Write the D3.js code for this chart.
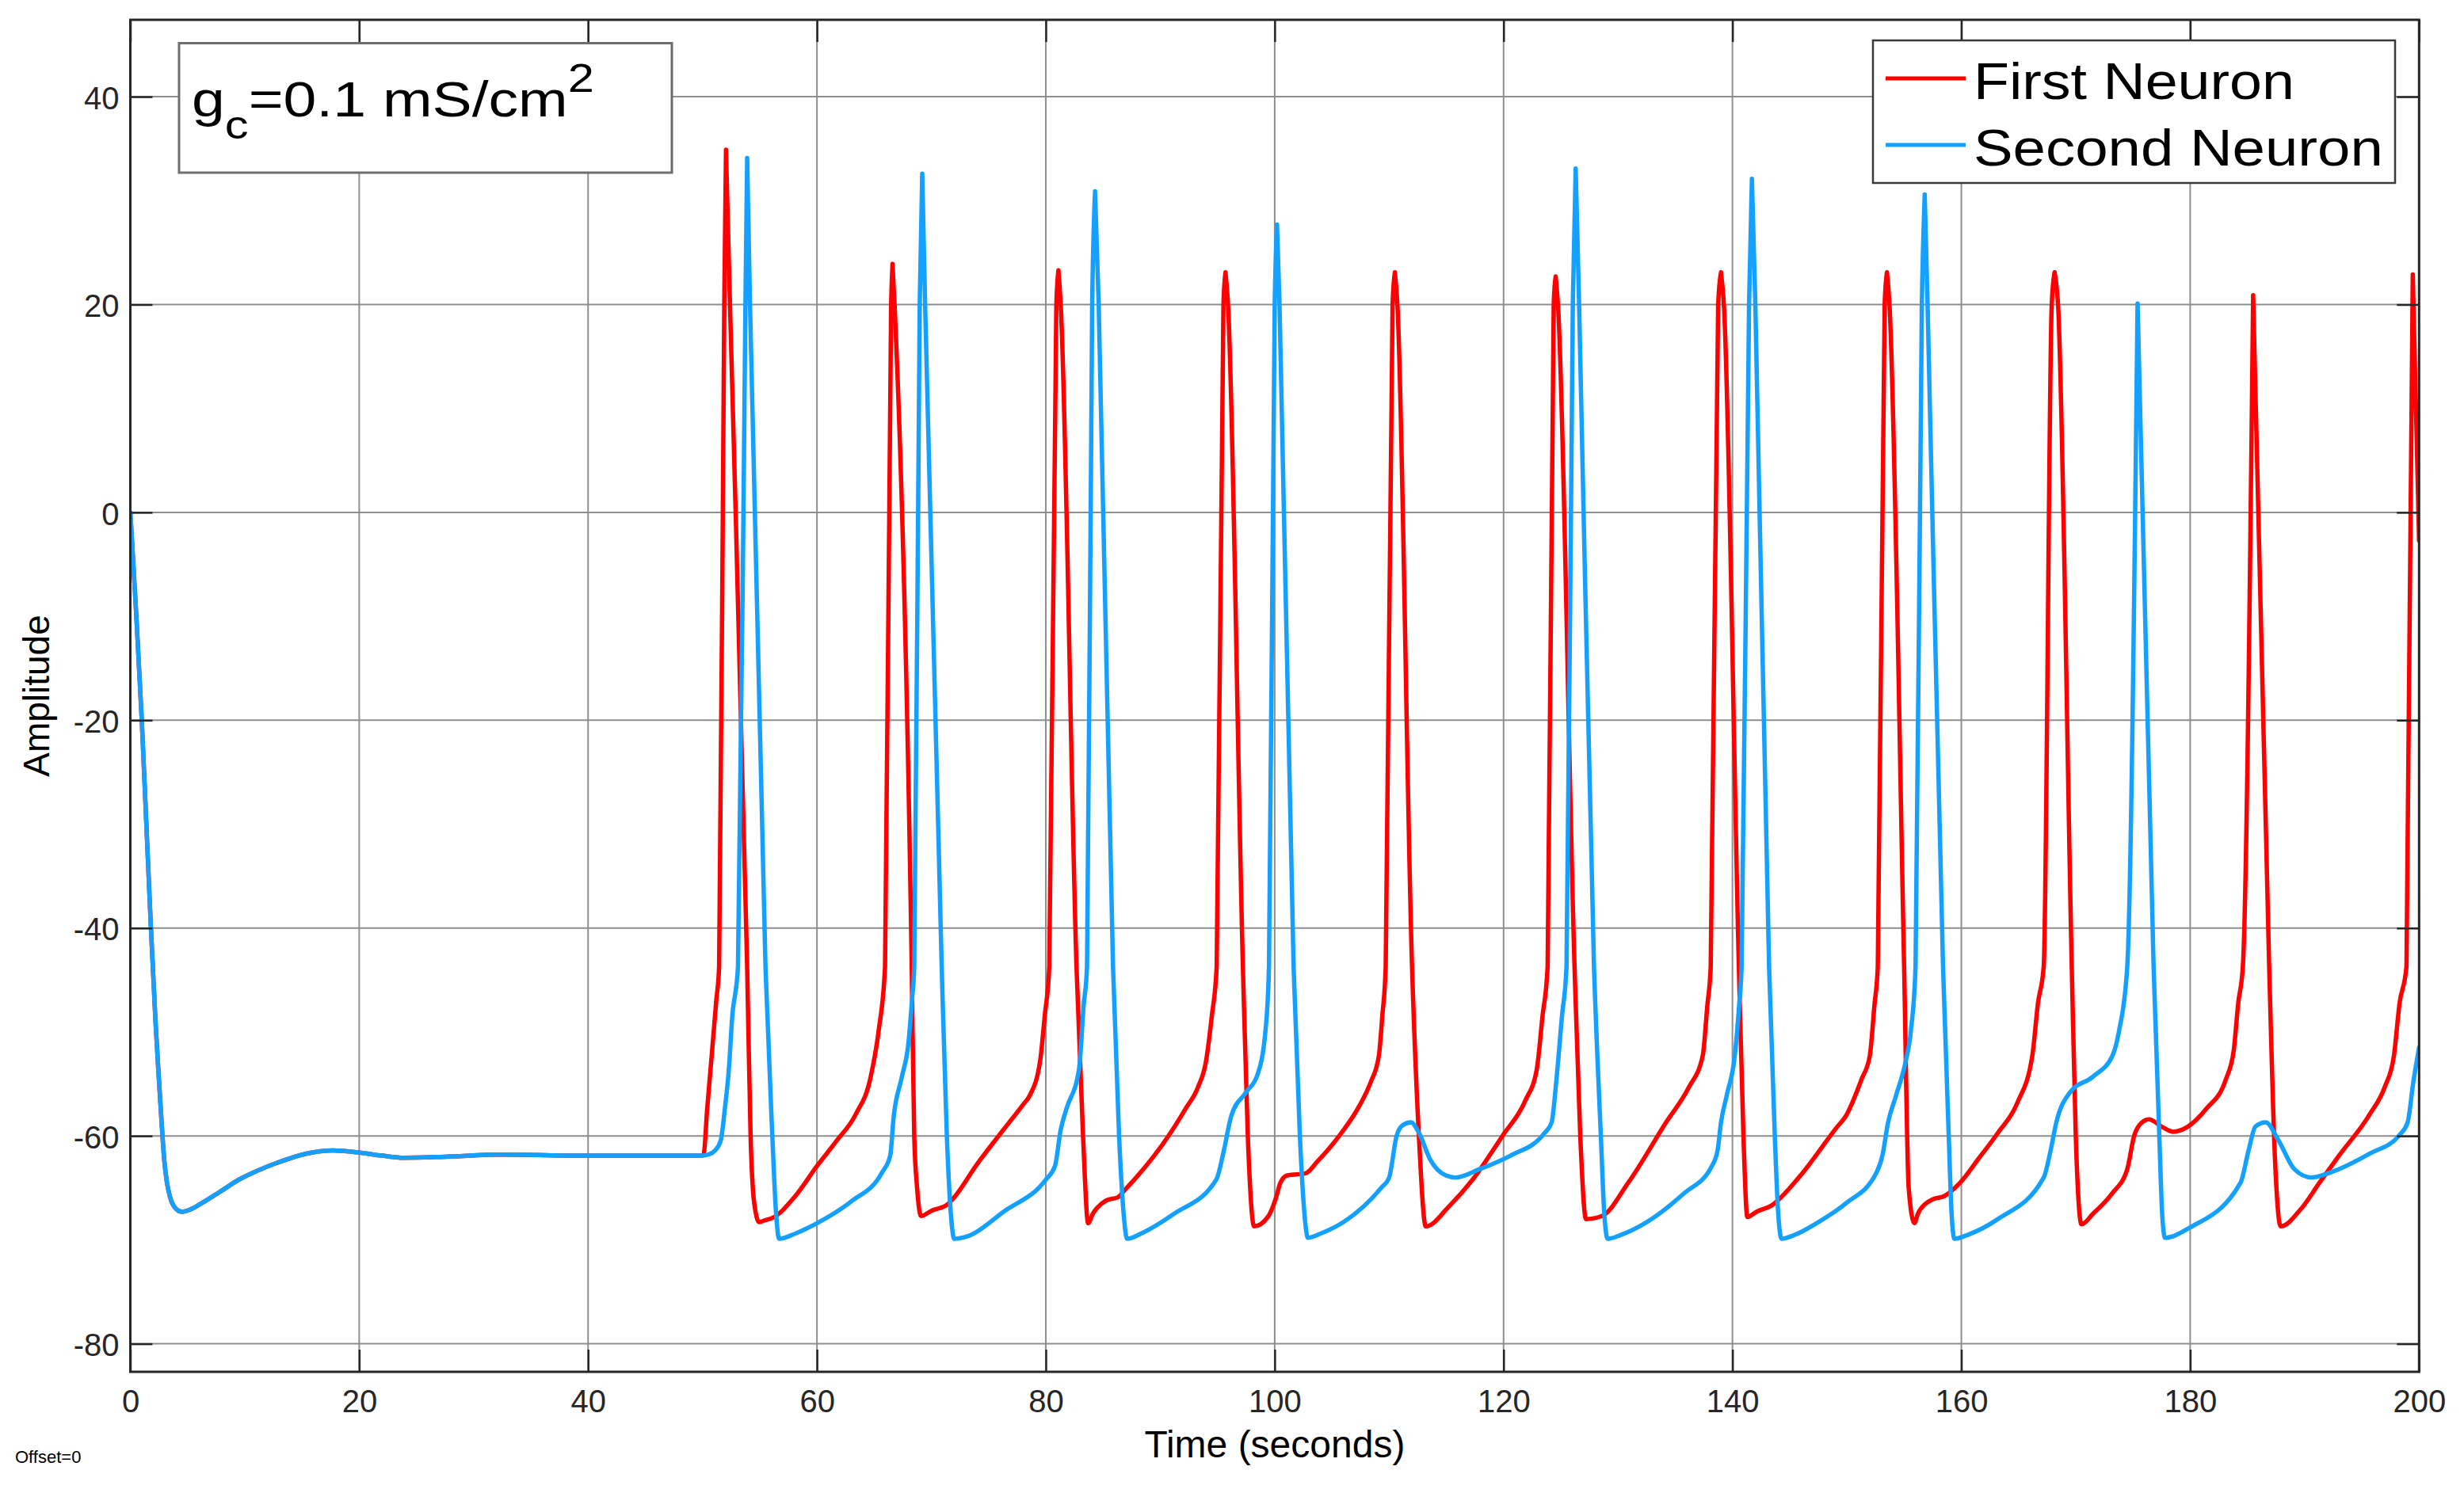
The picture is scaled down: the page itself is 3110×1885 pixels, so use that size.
<!DOCTYPE html>
<html>
<head>
<meta charset="utf-8">
<script src="https://cdn.jsdelivr.net/npm/d3@7/dist/d3.min.js"></script>
<style>
  html, body { margin: 0; padding: 0; background: #ffffff; }
  svg { display: block; }
  text { font-family: "Liberation Sans", Arial, Helvetica, sans-serif; }
</style>
</head>
<body>
<svg id="chart" width="3110" height="1885"></svg>
<script>
// ---------------- DATA ----------------
const xTicks = [0, 20, 40, 60, 80, 100, 120, 140, 160, 180, 200];
const yTicks = [-80, -60, -40, -20, 0, 20, 40];
const xDomain = [0, 200];
const yDomain = [-82.7, 47.4];
const seriesNames = ["First Neuron", "Second Neuron"];
const seriesColors = ["#ff0000", "#14a0ff"];
const xLabel = "Time (seconds)";
const yLabel = "Amplitude";
const noteText = { base: "g", sub: "c", main: "=0.1 mS/cm", sup: "2" };
const footText = "Offset=0";

// shared resting phase (both neurons identical until t = 50)
const restPhase = [
  [0,0],[0.5,-9.5],[1.0,-20],[1.4,-30],[1.8,-40],[2.2,-49],[2.46,-53.9],[2.75,-59],[2.96,-62.3],
  [3.2,-64.5],[3.45,-65.8],[3.9,-66.9],[4.5,-67.3],[5.2,-67.1],[6.2,-66.5],[7.8,-65.4],[9.5,-64.2],
  [11.2,-63.3],[12.8,-62.6],[15.4,-61.7],[17.7,-61.4],[20,-61.6],[22,-61.9],[23.9,-62.1],[27.5,-62.0],
  [32.4,-61.8],[40,-61.9],[50,-61.9]
];

// first neuron after t = 50
const firstNeuron = [
  [50.1,-61.8],[50.4,-57.5],[50.8,-52.3],[51.2,-47],[51.45,-43.7],[51.9,20],[52.05,34.9],[52.4,20],[53.9,-43.7],
  [54.2,-60],[54.5,-66.3],[54.95,-68.3],[55.5,-68.1],[56.1,-67.9],[58.1,-65.8],[60,-62.9],[61.7,-60.5],
  [63.4,-57.9],[64.7,-54.3],[65.4,-49.8],[65.95,-43.7],[66.48,20],[66.6,23.9],[66.78,20],[68.28,-43.7],
  [68.5,-60],[68.75,-65],[69.1,-67.7],[70.0,-67.2],[71.4,-66.6],[72.0,-65.9],[74.0,-62.7],[76.3,-59.4],
  [78.0,-57.0],[78.6,-56.1],[79.5,-52.8],[79.9,-48.5],[80.3,-43.7],[80.92,20],[81.1,23.3],[81.3,20],
  [82.68,-43.7],[83.25,-60],[83.7,-68.4],[84.1,-67.5],[84.5,-66.9],[85.3,-66.2],[86.3,-65.9],[86.9,-65.2],
  [87.9,-64],[90.9,-59.7],[92.2,-57.4],[93.3,-55.3],[94.0,-52.8],[94.5,-48.5],[94.93,-43.7],[95.52,20],
  [95.7,23.1],[95.92,20],[97.22,-43.7],[97.65,-60],[98.2,-68.7],[99.4,-67.8],[100.1,-66.0],[100.5,-64.5],
  [101.1,-63.8],[102.7,-63.6],[103.7,-62.5],[105.7,-59.9],[107.4,-57.1],[108.4,-54.8],[109.1,-52.3],
  [109.4,-48.5],[109.7,-43.7],[110.3,20],[110.5,23.1],[110.72,20],[112.0,-43.7],[112.6,-60],[113.2,-68.7],
  [115.3,-66.7],[117.3,-64.2],[119.9,-60],[121.9,-56.6],[122.9,-53.6],[123.4,-48.5],[123.85,-43.7],
  [124.38,20],[124.55,22.7],[124.75,20],[126.2,-43.7],[126.7,-60],[127.2,-68.0],[128.6,-67.7],[130.9,-64.5],
  [134.2,-58.7],[136.2,-55.3],[137.4,-52.3],[137.8,-47.5],[138.1,-43.7],[138.75,20],[139.0,23.1],[139.25,20],
  [140.56,-43.7],[140.96,-60],[141.3,-67.8],[142.1,-67.3],[143.4,-66.7],[145.8,-64],[149.1,-59.2],
  [149.9,-58.1],[151.3,-54.5],[152.0,-52.3],[152.4,-47.5],[152.7,-43.7],[153.3,20],[153.5,23.1],[153.72,20],
  [155.0,-43.7],[155.4,-65],[155.9,-68.4],[156.2,-67.5],[156.9,-66.5],[157.5,-66.1],[158.5,-65.8],
  [159.9,-64.5],[161.5,-62.2],[163.2,-59.7],[164.9,-56.8],[166.2,-52.3],[166.7,-47.2],[167.2,-43.7],
  [167.9,20],[168.15,23.1],[168.45,20],[169.65,-43.7],[170.0,-60],[170.5,-68.5],[171.5,-67.5],[173.2,-65.5],
  [174.5,-63.2],[175.1,-60],[175.6,-58.9],[176.4,-58.4],[177.5,-59.1],[178.5,-59.6],[179.8,-59.1],
  [181.4,-57.4],[183.1,-54.6],[183.8,-51.8],[184.2,-47.2],[184.6,-43.7],[185.5,20.9],[186.9,-43.7],
  [187.4,-62],[187.9,-68.7],[189.7,-67],[191.3,-64.5],[193,-61.9],[195.7,-57.9],[197,-55.3],[197.8,-52.3],
  [198.3,-47.2],[198.9,-43.7],[199.45,22.9],[200,-2.7]
];

// second neuron after t = 50
const secondNeuron = [
  [50.5,-61.8],[51.1,-61.4],[51.6,-60.4],[51.95,-57.4],[52.3,-53.6],[52.6,-48.5],[53.1,-43.7],[53.75,20],
  [53.9,34.1],[54.15,20],[55.5,-43.7],[56.1,-60],[56.4,-67],[56.7,-69.9],[58.1,-69.4],[60,-68.4],[63,-66.3],
  [65.7,-63.5],[66.4,-61.9],[66.7,-58.2],[67.4,-54.4],[68,-51],[68.3,-47],[68.5,-43.7],[68.98,20],[69.2,32.6],
  [69.45,20],[70.9,-43.7],[71.35,-60],[71.7,-67.5],[72.0,-69.9],[73.3,-69.6],[76.3,-67.3],[80,-64.2],
  [80.8,-62.9],[81.3,-59.4],[81.8,-57.4],[82.9,-53.6],[83.3,-47.5],[83.6,-43.7],[84.05,20],[84.3,30.9],
  [84.62,20],[85.87,-43.7],[86.4,-60],[86.8,-67.5],[87.1,-69.9],[88.5,-69.3],[91.2,-67.5],[94.9,-64.2],
  [95.5,-61.7],[96.2,-58.1],[97.5,-55.8],[98.5,-54.1],[99.2,-49.8],[99.5,-43.7],[100.0,20],[100.2,27.7],
  [100.42,20],[101.65,-43.7],[102.2,-60],[102.6,-67.5],[102.9,-69.8],[104,-69.4],[106,-68.3],[109.3,-65],
  [110,-64],[110.65,-60],[111.15,-59],[111.9,-58.7],[112.6,-59.7],[113.6,-62.3],[114.95,-63.8],[115.8,-64.0],
  [117.9,-63.2],[120.6,-61.9],[123.6,-59.7],[124.2,-58.7],[124.6,-54.8],[125.1,-48.5],[125.5,-43.7],
  [126.05,20],[126.3,33.1],[126.6,20],[127.9,-43.7],[128.5,-60],[128.8,-67.5],[129.1,-69.9],[130.3,-69.5],
  [132.5,-68.3],[135.8,-65.5],[138.2,-62.9],[138.7,-61.4],[139,-58.7],[139.5,-56.1],[140.2,-52.3],
  [140.6,-47.2],[140.8,-43.7],[141.45,20],[141.7,32.1],[142.0,20],[143.2,-43.7],[143.7,-60],[144.0,-67.5],
  [144.3,-69.9],[145.5,-69.5],[147.5,-68.3],[149.9,-66.5],[152.6,-63.5],[153.1,-61.9],[153.6,-58.7],
  [154.3,-56.1],[155.1,-53],[155.6,-49.8],[156.0,-43.7],[156.55,20],[156.8,30.6],[157.05,20],[158.4,-43.7],
  [158.9,-60],[159.15,-67.5],[159.4,-69.9],[160.6,-69.5],[163.2,-68],[167.2,-64],[167.8,-61.4],[168.3,-58.7],
  [169.5,-55.8],[171.5,-54.3],[173.2,-52.3],[173.8,-49.8],[174.5,-43.7],[175.4,20.1],[176.8,-43.7],
  [177.3,-60],[177.55,-67.5],[177.8,-69.8],[180,-68.8],[184.4,-64.5],[185.1,-61.4],[185.7,-59.1],
  [186.6,-58.7],[187.7,-60.4],[189.1,-63.2],[190.6,-64],[192.3,-63.5],[195.7,-61.7],[198.3,-59.9],
  [199,-58.7],[199.5,-54.8],[200,-51.5]
];

// ---------------- LAYOUT ----------------
const W = 3110, H = 1885;
const plot = { left: 164.5, right: 3053.3, top: 25, bottom: 1732 };
const axisColor = "#262626";

const svg = d3.select("#chart").attr("viewBox", `0 0 ${W} ${H}`);
svg.append("rect").attr("width", W).attr("height", H).attr("fill", "#ffffff");

const x = d3.scaleLinear().domain(xDomain).range([plot.left, plot.right]);
const y = d3.scaleLinear().domain(yDomain).range([plot.bottom, plot.top]);

// grid
const grid = svg.append("g").attr("stroke", "#8e8e8e").attr("stroke-width", 2);
grid.selectAll("line.gx").data(xTicks).join("line")
  .attr("x1", d => x(d)).attr("x2", d => x(d))
  .attr("y1", plot.top).attr("y2", plot.bottom);
grid.selectAll("line.gy").data(yTicks).join("line")
  .attr("x1", plot.left).attr("x2", plot.right)
  .attr("y1", d => y(d)).attr("y2", d => y(d));

// clip
svg.append("clipPath").attr("id", "plotClip").append("rect")
  .attr("x", plot.left).attr("y", plot.top)
  .attr("width", plot.right - plot.left).attr("height", plot.bottom - plot.top);

// smooth line, but keep spike tips sharp: split each series at its spike peaks
const line = d3.line().x(d => x(d[0])).y(d => y(d[1])).curve(d3.curveMonotoneX);
function sharpPeakPath(s) {
  const cuts = [0];
  for (let i = 1; i < s.length - 1; i++) {
    if (s[i][1] > 0 && s[i][1] >= s[i - 1][1] && s[i][1] >= s[i + 1][1]) cuts.push(i);
  }
  cuts.push(s.length - 1);
  let d = "";
  for (let k = 0; k < cuts.length - 1; k++) d += line(s.slice(cuts[k], cuts[k + 1] + 1));
  return d;
}
const series = [restPhase.concat(firstNeuron), restPhase.concat(secondNeuron)];
const lines = svg.append("g").attr("clip-path", "url(#plotClip)");
series.forEach((s, i) => {
  lines.append("path").datum(s)
    .attr("d", sharpPeakPath)
    .attr("fill", "none")
    .attr("stroke", seriesColors[i])
    .attr("stroke-width", 5.5)
    .attr("stroke-linejoin", "round")
    .attr("stroke-linecap", "round");
});

// axes (ticks inward on all four sides)
const tickLen = 28;
const fmt = d => String(d);
function styleAxis(g) {
  g.select(".domain").remove();
  g.selectAll(".tick line").attr("stroke", axisColor).attr("stroke-width", 2.5);
  g.selectAll(".tick text").attr("fill", axisColor).attr("font-size", 40)
    .attr("font-family", "'Liberation Sans', Arial, sans-serif");
}
svg.append("g").attr("transform", `translate(0,${plot.bottom})`)
  .call(d3.axisBottom(x).tickValues(xTicks).tickSize(-tickLen).tickPadding(23).tickFormat(fmt))
  .call(styleAxis);
svg.append("g").attr("transform", `translate(${plot.left},0)`)
  .call(d3.axisLeft(y).tickValues(yTicks).tickSize(-tickLen).tickPadding(14).tickFormat(fmt))
  .call(styleAxis)
  .selectAll(".tick text").attr("dy", "0.38em");
svg.append("g").attr("transform", `translate(0,${plot.top})`)
  .call(d3.axisTop(x).tickValues(xTicks).tickSize(-tickLen).tickFormat(""))
  .call(styleAxis);
svg.append("g").attr("transform", `translate(${plot.right},0)`)
  .call(d3.axisRight(y).tickValues(yTicks).tickSize(-tickLen).tickFormat(""))
  .call(styleAxis);

// box
svg.append("rect")
  .attr("x", plot.left).attr("y", plot.top)
  .attr("width", plot.right - plot.left).attr("height", plot.bottom - plot.top)
  .attr("fill", "none").attr("stroke", axisColor).attr("stroke-width", 3);

// axis labels
svg.append("text").text(xLabel)
  .attr("x", (plot.left + plot.right) / 2).attr("y", 1840)
  .attr("text-anchor", "middle").attr("font-size", 48).attr("fill", "#000");
svg.append("text").text(yLabel)
  .attr("transform", `translate(62,${(plot.top + plot.bottom) / 2}) rotate(-90)`)
  .attr("text-anchor", "middle").attr("font-size", 46).attr("fill", "#000");

svg.append("text").text(footText)
  .attr("x", 19).attr("y", 1847).attr("font-size", 22).attr("fill", "#000");

// helper: stretch text horizontally to a target width
function fitWidth(sel, x0, target) {
  const w = sel.node().getBBox().width;
  const k = target / w;
  sel.attr("transform", `translate(${x0},0) scale(${k},1) translate(${-x0},0)`);
}

// legend
const legend = svg.append("g");
legend.append("rect")
  .attr("x", 2364).attr("y", 51).attr("width", 659).attr("height", 180)
  .attr("fill", "#ffffff").attr("stroke", "#3a3a3a").attr("stroke-width", 2.5);
const legRows = [{ y: 99, base: 125, w: 405 }, { y: 183, base: 209, w: 517 }];
seriesNames.forEach((name, i) => {
  legend.append("line")
    .attr("x1", 2380).attr("x2", 2481)
    .attr("y1", legRows[i].y).attr("y2", legRows[i].y)
    .attr("stroke", seriesColors[i]).attr("stroke-width", 5);
  const t = legend.append("text").text(name)
    .attr("x", 2491).attr("y", legRows[i].base)
    .attr("font-size", 64).attr("fill", "#000");
  fitWidth(t, 2491, legRows[i].w);
});

// annotation box
const note = svg.append("g");
note.append("rect")
  .attr("x", 226).attr("y", 54.5).attr("width", 622).attr("height", 163.5)
  .attr("fill", "#ffffff").attr("stroke", "#6e6e6e").attr("stroke-width", 3);
const nt = note.append("text").attr("x", 242).attr("y", 147).attr("font-size", 63).attr("fill", "#000");
nt.append("tspan").text(noteText.base);
nt.append("tspan").text(noteText.sub).attr("font-size", 50).attr("dy", 28);
nt.append("tspan").text(noteText.main).attr("dy", -28);
nt.append("tspan").text(noteText.sup).attr("font-size", 50).attr("dy", -31);
fitWidth(nt, 242, 508);
</script>
</body>
</html>
